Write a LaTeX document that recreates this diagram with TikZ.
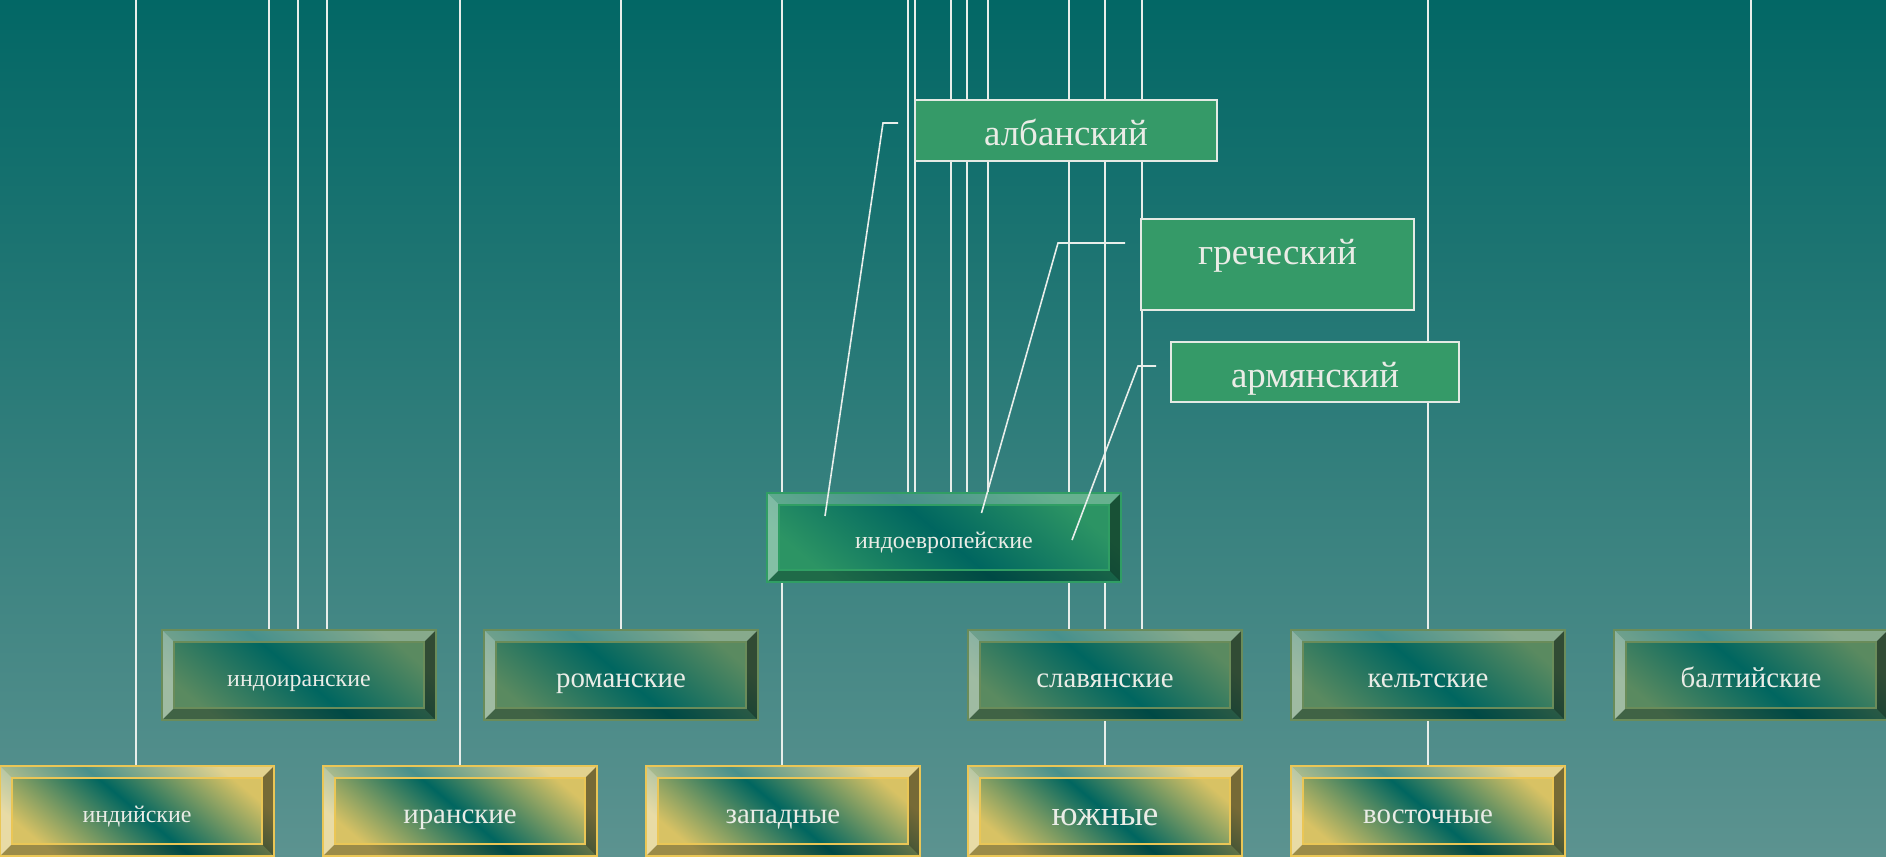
\documentclass[tikz,border=0pt]{standalone}
\usepackage{fontspec}
\setmainfont{Liberation Serif}
\definecolor{bgtop}{RGB}{2,103,101}
\definecolor{bgbot}{RGB}{92,147,144}
\definecolor{lineC}{RGB}{232,238,234}
\definecolor{txt}{RGB}{234,236,230}
\definecolor{teal0}{RGB}{0,102,96}
\definecolor{yel}{RGB}{216,194,100}
\definecolor{yelB}{RGB}{234,198,86}
\definecolor{olv}{RGB}{90,138,96}
\definecolor{olvB}{RGB}{106,140,90}
\definecolor{grn}{RGB}{44,148,100}
\definecolor{grnB}{RGB}{48,158,100}
\definecolor{lab}{RGB}{53,154,104}
\definecolor{labB}{RGB}{228,234,228}
\pgfdeclarehorizontalshading{yshade}{100bp}{color(0bp)=(yel); color(25bp)=(yel); color(50bp)=(teal0); color(75bp)=(yel); color(100bp)=(yel)}
\pgfdeclarehorizontalshading{gshade}{100bp}{color(0bp)=(olv); color(25bp)=(olv); color(50bp)=(teal0); color(75bp)=(olv); color(100bp)=(olv)}
\pgfdeclarehorizontalshading{eshade}{100bp}{color(0bp)=(grn); color(25bp)=(grn); color(50bp)=(teal0); color(75bp)=(grn); color(100bp)=(grn)}
\pgfdeclarelayer{bg}
\pgfdeclarelayer{lines}
\pgfsetlayers{bg,lines,main}
\tikzset{
  vline/.style={draw=lineC, line width=1.6bp},
  bevbox/.style 2 args={rectangle, inner sep=0pt, shading=#1, shading angle=50,
    draw=#2, line width=1.6bp, text=txt, minimum width=274bp, minimum height=90bp,
    path picture={
      \coordinate (pNW) at (path picture bounding box.north west);
      \coordinate (pNE) at (path picture bounding box.north east);
      \coordinate (pSW) at (path picture bounding box.south west);
      \coordinate (pSE) at (path picture bounding box.south east);
      \coordinate (qNW) at ([shift={(12bp,-12bp)}]pNW);
      \coordinate (qNE) at ([shift={(-12bp,-12bp)}]pNE);
      \coordinate (qSW) at ([shift={(12bp,12bp)}]pSW);
      \coordinate (qSE) at ([shift={(-12bp,12bp)}]pSE);
      \fill[white,opacity=0.28] (pNW) -- (pNE) -- (qNE) -- (qNW) -- cycle;
      \fill[white,opacity=0.42] (pNW) -- (qNW) -- (qSW) -- (pSW) -- cycle;
      \fill[black,opacity=0.45] (pNE) -- (pSE) -- (qSE) -- (qNE) -- cycle;
      \fill[black,opacity=0.28] (pSW) -- (qSW) -- (qSE) -- (pSE) -- cycle;
      \draw[#2, line width=1.6bp] (qNW) rectangle (qSE);
    }},
  ybox/.style={bevbox={yshade}{yelB}},
  gbox/.style={bevbox={gshade}{olvB}},
  ebox/.style={bevbox={eshade}{grnB}, minimum width=354bp, minimum height=89bp},
  fsmall/.style={font=\fontsize{24}{28}\selectfont, text height=22bp, text depth=0bp},
  fmid/.style={font=\fontsize{29}{33}\selectfont, text height=25bp, text depth=0bp},
  fbig/.style={font=\fontsize{35}{40}\selectfont, text height=29bp, text depth=0bp},
  labbox/.style={rectangle, inner sep=0pt, fill=lab, draw=labB, line width=1.8bp,
    text=txt, font=\fontsize{37}{42}\selectfont},
}
\begin{document}
\begin{tikzpicture}[x=1bp, y=-1bp]
\useasboundingbox (0,0) rectangle (1886,857);
\begin{pgfonlayer}{bg}
\shade[top color=bgtop, bottom color=bgbot] (0,0) rectangle (1886,857);
\end{pgfonlayer}
\begin{scope}
\clip (0,0) rectangle (1886,857);
% central node
\node[ebox, fsmall] (ie) at (944,537.5) {индоевропейские};
% second row
\node[gbox, fsmall] (indoiran) at (299,675) {индоиранские};
\node[gbox, fmid] (roman) at (621,675) {романские};
\node[gbox, fmid] (slav) at (1105,675) {славянские};
\node[gbox, fmid] (celt) at (1428,675) {кельтские};
\node[gbox, fmid] (balt) at (1751,675) {балтийские};
% third row
\node[ybox, fsmall] (indian) at (137,811) {индийские};
\node[ybox, fmid] (iran) at (460,811) {иранские};
\node[ybox, fmid] (west) at (783,811) {западные};
\node[ybox, fbig] (south) at (1105,811) {южные};
\node[ybox, fmid] (east) at (1428,811) {восточные};
% labels
\node[labbox, minimum width=302bp, minimum height=61bp, text height=29bp, text depth=0bp] (alb) at (1066,130.5) {албанский};
\node[labbox, minimum width=273bp, minimum height=91bp, text height=16.5bp, text depth=17bp] (gre) at (1277.5,264.5) {греческий};
\node[labbox, minimum width=288bp, minimum height=60bp, text height=30bp, text depth=0bp] (arm) at (1315,372) {армянский};
% vertical lines
\begin{pgfonlayer}{lines}
\foreach \x/\n in {269/indoiran, 298/indoiran, 327/indoiran, 621/roman, 1069/slav, 1142/slav, 1751/balt,
  136/indian, 460/iran, 782/west, 1105/south, 1428/east, 908/ie, 915/ie, 951/ie, 967/ie, 988/ie}{
  \coordinate (top\x) at (\x,0);
  \draw[vline] (top\x) -- (top\x |- \n.north);
}
\end{pgfonlayer}
% callout lines
\coordinate (albE) at (898,123);
\coordinate (albK) at (883,123);
\coordinate (albP) at (825,516);
\coordinate (greE) at (1125,243);
\coordinate (greK) at (1058,243);
\coordinate (greP) at (981.5,513);
\coordinate (armE) at (1156,366);
\coordinate (armK) at (1138,366);
\coordinate (armP) at (1072,540);
\draw[vline] (albE) -- (albK) -- (albP);
\draw[vline] (greE) -- (greK) -- (greP);
\draw[vline] (armE) -- (armK) -- (armP);
\end{scope}
\end{tikzpicture}
\end{document}
